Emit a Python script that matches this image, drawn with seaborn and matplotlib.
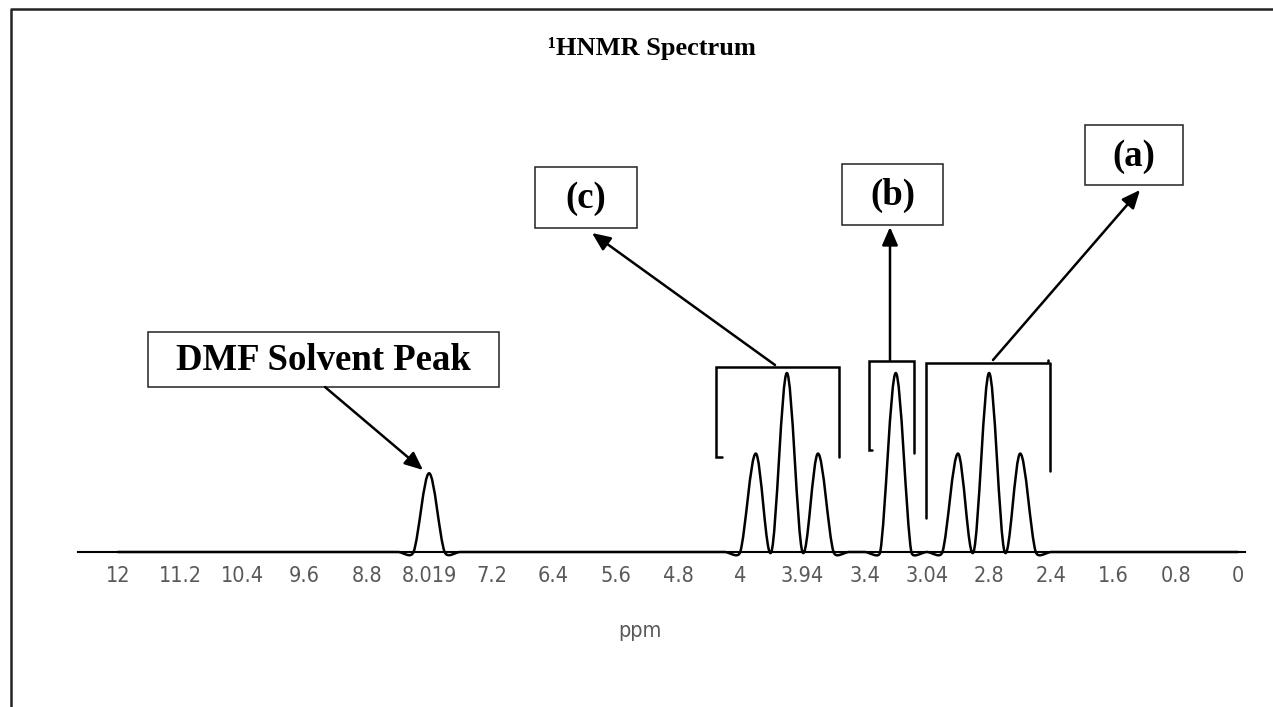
import numpy as np
import pandas as pd
import matplotlib
matplotlib.use("Agg")
import matplotlib.pyplot as plt
import seaborn as sns
from matplotlib.path import Path
from matplotlib.patches import PathPatch, Rectangle, FancyArrowPatch
from matplotlib.lines import Line2D
from matplotlib.transforms import Affine2D

# ---------------- data ----------------
# labelled ppm ticks (one label every 4 category points)
tick_labels = ["12", "11.2", "10.4", "9.6", "8.8", "8.019", "7.2", "6.4", "5.6",
               "4.8", "4", "3.94", "3.4", "3.04", "2.8", "2.4", "1.6", "0.8", "0"]
label_step = 4

# signal intensity at each of the 73 category points
intensity = [0, 0, 0, 0, 0, 0, 0, 0, 0, 0,
             0, 0, 0, 0, 0, 0, 0, 0, 0, 0,
             44, 0, 0, 0, 0, 0, 0, 0, 0, 0,
             0, 0, 0, 0, 0, 0, 0, 0, 0, 0,
             0, 55, 0, 100, 0, 55, 0, 0, 0, 0,
             100, 0, 0, 0, 55, 0, 100, 0, 55, 0,
             0, 0, 0, 0, 0, 0, 0, 0, 0, 0,
             0, 0, 0]

annotation_labels = ["DMF Solvent Peak", "(c)", "(b)", "(a)"]
title_text = "\u00b9HNMR Spectrum"
x_label = "ppm"

# ---------------- style ----------------
W, H = 1273, 707
sns.set_theme(style="white")
plt.rcParams["font.family"] = ["DejaVu Sans"]

fig = plt.figure(figsize=(W / 100, H / 100), dpi=100)
fig.patch.set_facecolor("white")

ax_left, ax_right, ax_base, ax_top = 78, 1245, 552, 100
ax = fig.add_axes([ax_left / W, 1 - ax_base / H, (ax_right - ax_left) / W,
                   (ax_base - ax_top) / H])
ax.set_facecolor("white")

df = pd.DataFrame({"idx": np.arange(len(intensity)), "intensity": intensity})
sns.lineplot(data=df, x="idx", y="intensity", ax=ax, color="black",
             linewidth=1.8)

xlim = (-2.57, 72.45)
ylim = (0, 100 * (ax_base - ax_top) / 179)
ax.set_xlim(*xlim)
ax.set_ylim(*ylim)

# Excel-like smoothed rendering of the seaborn line (Bezier through the points)
line = ax.lines[-1]
xy = line.get_xydata()
line.remove()

sx = (ax_right - ax_left) / (xlim[1] - xlim[0])   # px per x unit
sy = (ax_base - ax_top) / (ylim[1] - ylim[0])     # px per y unit


def smooth_path(x, y):
    P = np.column_stack([np.asarray(x) * sx, np.asarray(y) * sy])
    n = len(P)
    verts = [tuple(P[0])]
    codes = [Path.MOVETO]
    for i in range(n - 1):
        p0, p1 = P[max(i - 1, 0)], P[i]
        p2, p3 = P[i + 1], P[min(i + 2, n - 1)]
        seg = np.linalg.norm(p2 - p1)
        v1 = (p2 - p0) / 6
        v2 = (p3 - p1) / 6
        for v in (v1, v2):
            L = np.linalg.norm(v)
            if L > seg / 2:
                v *= (seg / 2) / L
        c1, c2 = p1 + v1, p2 - v2
        verts += [tuple(c1), tuple(c2), tuple(p2)]
        codes += [Path.CURVE4] * 3
    verts = [(a / sx, b / sy) for a, b in verts]
    return Path(verts, codes)


ax.add_patch(PathPatch(smooth_path(xy[:, 0], xy[:, 1]), fill=False,
                       edgecolor="black", lw=1.8, clip_on=False,
                       joinstyle="round", capstyle="round", zorder=3))

ax.set_xticks(np.arange(0, len(intensity), label_step))
ax.set_xticklabels(tick_labels)
ax.set_yticks([])
ax.set_xlabel("")
ax.set_ylabel("")
for s in ["left", "right", "top"]:
    ax.spines[s].set_visible(False)
ax.spines["bottom"].set_color("black")
ax.spines["bottom"].set_linewidth(1.5)
ax.tick_params(axis="x", length=0, pad=10, labelsize=15.5,
               labelcolor="#595959")
for t in ax.get_xticklabels():
    t.set_fontstretch("condensed")

# ---------------- annotations (pixel coordinates, y from top) ----------------
pix = Affine2D().scale(1, -1).translate(0, H)

fig.text(640 / W, 1 - 637 / H, x_label, ha="center", va="baseline",
         fontsize=15.5, color="#595959", fontstretch="condensed")
fig.text(652 / W, 1 - 48 / H, title_text, ha="center", va="center",
         fontsize=19, fontweight="bold", family="Liberation Serif",
         color="black")

boxes = [(148, 332, 499, 387), (535, 167, 637, 228),
         (842, 164, 943, 225), (1085, 125, 1183, 185)]
for (x0, y0, x1, y1), lab in zip(boxes, annotation_labels):
    fig.add_artist(Rectangle((x0, y1), x1 - x0, y0 - y1, transform=pix,
                             facecolor="white", edgecolor="#222222", lw=1.1))
    fig.text(((x0 + x1) / 2) / W, 1 - ((y0 + y1) / 2 + 1) / H, lab,
             ha="center", va="center", fontsize=26.5, fontweight="bold",
             family="Liberation Serif", color="black")

brackets = [
    [(722, 457), (716, 457), (716, 367), (839, 367), (839, 457)],
    [(872, 450), (869, 450), (869, 361), (914, 361), (914, 453)],
    [(926, 518), (926, 363), (1048, 363), (1048, 360)],
    [(1050, 363), (1050, 471)],
]
for pts in brackets:
    xs, ys = zip(*pts)
    fig.add_artist(Line2D(xs, ys, transform=pix, color="black", lw=1.8,
                          solid_joinstyle="miter"))

arrows = [((325, 387), (423, 470)), ((775, 365), (592, 233)),
          ((890, 360), (890, 227)), ((993, 360), (1140, 190))]
for a, b in arrows:
    fig.add_artist(FancyArrowPatch(a, b, transform=pix,
                                   arrowstyle="-|>,head_length=0.55,head_width=0.24",
                                   mutation_scale=20, color="black", lw=1.8,
                                   shrinkA=0, shrinkB=0))

# outer chart frame (left and top edges)
fig.add_artist(Line2D([11, 11, W], [H, 9, 9], transform=pix, color="#222222",
                      lw=1.8))

fig.savefig("out.png", dpi=100)
